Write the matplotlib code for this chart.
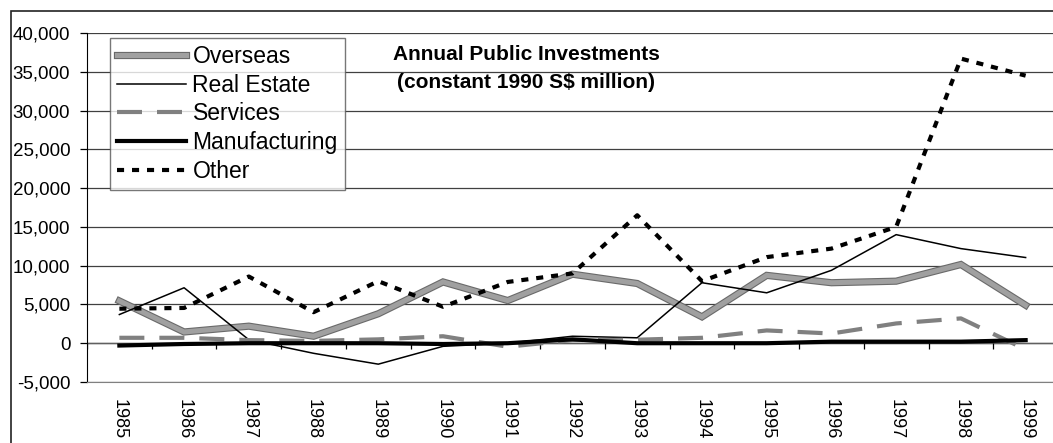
import matplotlib
matplotlib.use("Agg")
import matplotlib.pyplot as plt
import matplotlib.patheffects as pe
from matplotlib.patches import Rectangle
from matplotlib.ticker import FuncFormatter
import numpy as np

plt.rcParams['font.family'] = ['Liberation Sans', 'DejaVu Sans']

years = [str(y) for y in range(1985, 2000)]
overseas = [5450, 1450, 2200, 900, 3800, 7900, 5500, 8900, 7700, 3400, 8750, 7800, 8000, 10150, 4900]
real_estate = [3700, 7150, 450, -1300, -2700, -400, 0, 900, 700, 7800, 6500, 9400, 14000, 12200, 11050]
services = [700, 700, 400, 300, 500, 900, -450, 400, 450, 700, 1650, 1250, 2550, 3200, -800]
manufacturing = [-300, -100, 0, 0, 0, -100, 0, 500, 0, 0, 0, 200, 200, 200, 400]
other = [4450, 4550, 8600, 4000, 8000, 4700, 7900, 9000, 16500, 8000, 11100, 12200, 15000, 36700, 34500]

W, H = 1053, 443
fig = plt.figure(figsize=(W / 100, H / 100), dpi=100)
ax = fig.add_axes([87 / W, 1 - 382 / H, (1058 - 87) / W, (382 - 33) / H])

x = np.arange(len(years))

ax.plot(x, overseas, color='#a0a0a0', lw=3.6, solid_joinstyle='miter',
        path_effects=[pe.Stroke(linewidth=5.2, foreground='#6a6a6a'), pe.Normal()],
        label='Overseas', zorder=3)
ax.plot(x, real_estate, color='black', lw=1.1, label='Real Estate', zorder=4)
ax.plot(x, services, color='#808080', lw=3, linestyle=(0, (6, 3.6)), label='Services', zorder=5)
ax.plot(x, manufacturing, color='black', lw=3, label='Manufacturing', zorder=6)
ax.plot(x, other, color='black', lw=3, linestyle=(0, (1.7, 1.9)), label='Other', zorder=7)

ax.set_xlim(-0.5, len(years) - 0.5)
ax.set_ylim(-5000, 40000)
ax.set_yticks(np.arange(-5000, 40001, 5000))
ax.yaxis.set_major_formatter(FuncFormatter(lambda v, p: f"{int(v):,}"))
ax.grid(axis='y', color='#404040', lw=0.9, zorder=1)
ax.set_axisbelow(True)

# category axis crosses at zero, labels stay at the bottom
ax.axhline(0, color='#606060', lw=1.0, zorder=2)
ax.vlines(np.arange(len(years) + 1) - 0.5, -750, 0, color='black', lw=0.9, zorder=2)
ax.set_xticks(x)
ax.set_xticklabels(years, rotation=-90, fontsize=13)
ax.tick_params(axis='x', length=0, pad=12)
ax.tick_params(axis='y', direction='out', length=5, width=0.9, pad=7, labelsize=13.5)

for s in ['top', 'right']:
    ax.spines[s].set_visible(False)
ax.spines['bottom'].set_color('#808080')
ax.spines['left'].set_color('black')

leg = fig.legend(loc='upper left', bbox_to_anchor=(110 / W, 1 - 38 / H), fontsize=16.5,
                 frameon=True, fancybox=False, handlelength=3.0, handletextpad=0.3,
                 labelspacing=0.25, borderpad=0.3, borderaxespad=0)
leg.get_frame().set_edgecolor('#555555')
leg.get_frame().set_linewidth(1.0)

fig.text(526 / W, 1 - 54 / H, 'Annual Public Investments', ha='center', va='center',
         fontsize=15, fontweight='bold')
fig.text(526 / W, 1 - 83 / H, '(constant 1990 S\\$ million)', ha='center', va='center',
         fontsize=15, fontweight='bold')

fig.patches.append(Rectangle((10.5 / W, -0.1), 1.2, 1.1 - 11.5 / H, transform=fig.transFigure,
                             fill=False, ec='#222222', lw=1.2))

fig.savefig('out.png', dpi=100)
